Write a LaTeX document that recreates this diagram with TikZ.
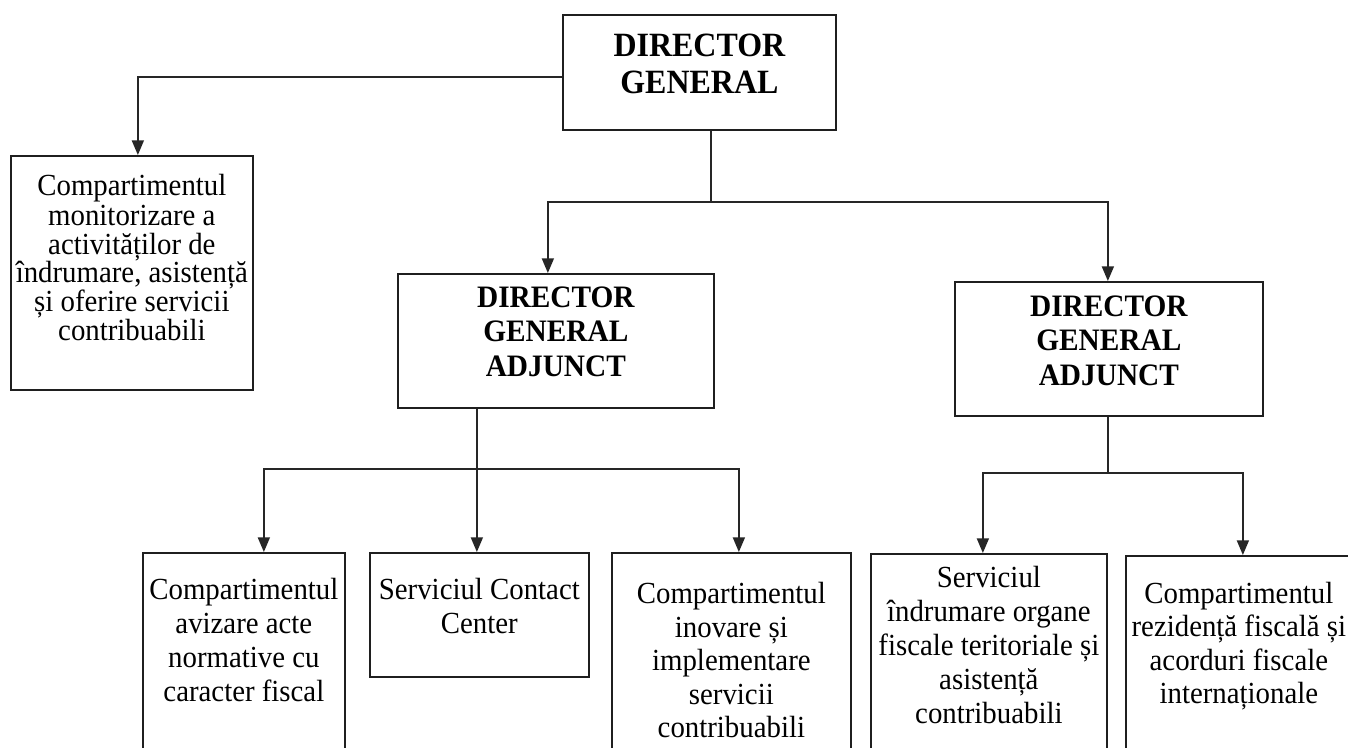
\documentclass[tikz,border=0pt]{standalone}
\usepackage{fontspec}
\setmainfont{Liberation Serif}[FakeStretch=0.94]
\usetikzlibrary{arrows.meta,calc}
\newdimen\pxu \pxu=0.75pt
% #1 width px, #2 height px, #3 top pad px, #4 font size, #5 baselineskip, #6 text
\newcommand\boxtext[6]{\parbox[c][#2\pxu][t]{#1\pxu}{\fontsize{#4}{#5}\selectfont\centering\vspace*{#3\pxu}\strut #6}}
\tikzset{
  box/.style={draw=black!88, line width=1.3pt, inner sep=0pt, anchor=north west},
  ln/.style={line width=1.2pt, draw=black!85},
  arr/.style={ln, -{Triangle[width=9pt,length=11pt]}},
}
\begin{document}
\begin{tikzpicture}[x=0.75pt,y=-0.75pt]
\useasboundingbox (0,0) rectangle (1348,747);
\clip (0,0) rectangle (1348,747);
\fill[white] (0,0) rectangle (1348,747);

\node[box] (top) at (562,14) {\boxtext{273}{115}{16}{25.5pt}{27.75pt}{\bfseries DIRECTOR\\GENERAL}};
\node[box] (lb) at (10,155) {\boxtext{242}{234}{18}{23pt}{21.5pt}{Compartimentul\\monitorizare a\\activităților de\\îndrumare, asistență\\și oferire servicii\\contribuabili}};
\node[box] (d1) at (397,273) {\boxtext{316}{134}{9}{23.4pt}{25.9pt}{\bfseries DIRECTOR\\GENERAL\\ADJUNCT}};
\node[box] (d2) at (954,281) {\boxtext{308}{134}{10}{23.4pt}{25.9pt}{\bfseries DIRECTOR\\GENERAL\\ADJUNCT}};
\node[box] (b1) at (142,552) {\boxtext{202}{220}{23}{23pt}{25.5pt}{Compartimentul\\avizare acte\\normative cu\\caracter fiscal}};
\node[box] (b2) at (369,552) {\boxtext{219}{124}{23}{23pt}{25.5pt}{Serviciul Contact\\Center}};
\node[box] (b3) at (611,552) {\boxtext{239}{220}{27.5}{23pt}{25.1pt}{Compartimentul\\inovare și\\implementare\\servicii\\contribuabili}};
\node[box] (b4) at (870,553) {\boxtext{236}{220}{10}{23pt}{25.5pt}{Serviciul\\îndrumare organe\\fiscale teritoriale și\\asistență\\contribuabili}};
\node[box] (b5) at (1125,555) {\boxtext{226}{220}{24}{23pt}{25.1pt}{Compartimentul\\rezidență fiscală și\\acorduri fiscale\\internaționale}};

% director general connectors
\draw[arr] ($(top.west)+(0,4.5)$) -| ($(lb.north)+(6,0)$);
\coordinate (t0) at ($(top.south)+(11.5,0)$);
\coordinate (h1) at ($(t0)+(0,71)$);
\draw[ln] (t0) -- (h1);
\draw[arr] (h1) -| ($(d1.north)+(-8,0)$);
\draw[arr] (h1) -| ($(d2.north)+(-1,0)$);

% first deputy
\coordinate (s1) at ($(d1.south)+(-79,0)$);
\coordinate (h2) at ($(s1)+(0,60)$);
\draw[ln] (s1) -- (h2);
\draw[arr] (h2) -| ($(b1.north)+(20,0)$);
\draw[arr] (h2) -- (h2 |- b2.north);
\draw[arr] (h2) -| ($(b3.north)+(7.5,0)$);

% second deputy
\coordinate (s2) at ($(d2.south)+(-1,0)$);
\coordinate (h3) at ($(s2)+(0,56)$);
\draw[ln] (s2) -- (h3);
\draw[arr] (h3) -| ($(b4.north)+(-6,0)$);
\draw[arr] (h3) -| ($(b5.north)+(4,0)$);
\end{tikzpicture}
\end{document}
